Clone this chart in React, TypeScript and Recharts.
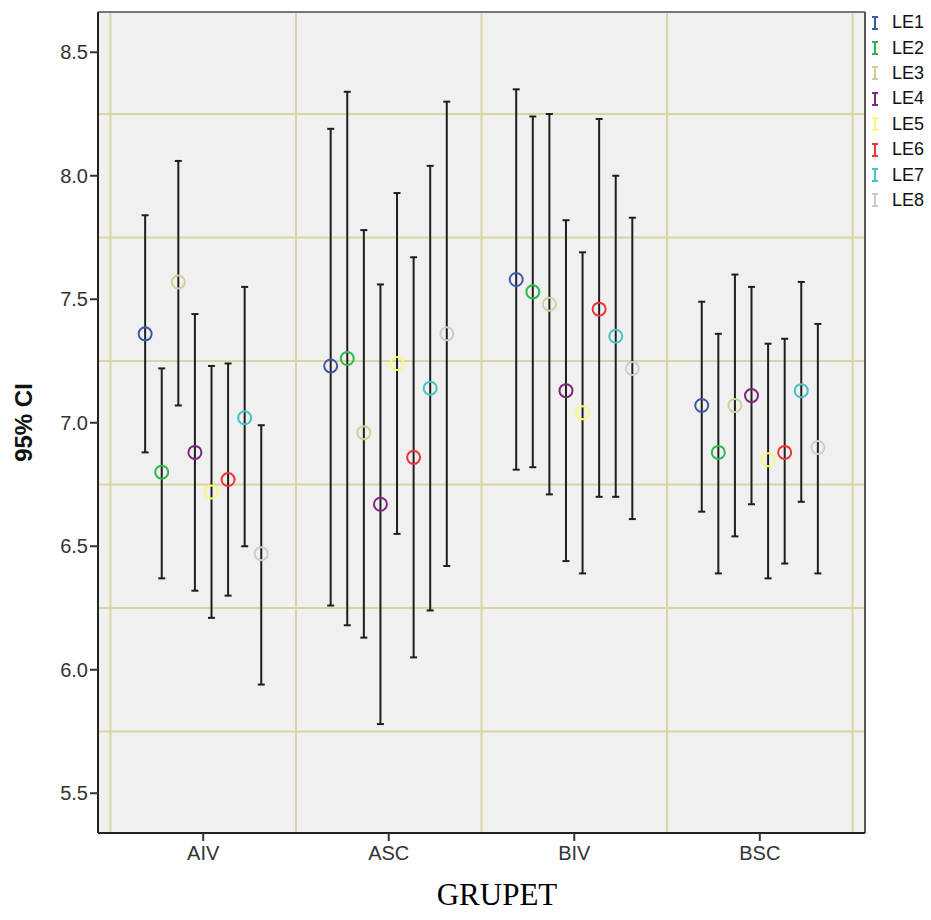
import { ComposedChart, Scatter, ErrorBar, XAxis, YAxis, CartesianGrid, ReferenceLine } from "recharts";

const groups = ["AIV", "ASC", "BIV", "BSC"];
const seriesNames = ["LE1", "LE2", "LE3", "LE4", "LE5", "LE6", "LE7", "LE8"];
const seriesColors = ["#3E58AC", "#2EB848", "#D3CE97", "#7C287D", "#FBF873", "#EF3338", "#48C2C5", "#CCCCCC"];

// mean, lower and upper 95% bounds per series, one entry per group (AIV, ASC, BIV, BSC)
const means = [
  [7.36, 7.23, 7.58, 7.07],
  [6.8, 7.26, 7.53, 6.88],
  [7.57, 6.96, 7.48, 7.07],
  [6.88, 6.67, 7.13, 7.11],
  [6.72, 7.24, 7.04, 6.85],
  [6.77, 6.86, 7.46, 6.88],
  [7.02, 7.14, 7.35, 7.13],
  [6.47, 7.36, 7.22, 6.9],
];
const lowers = [
  [6.88, 6.26, 6.81, 6.64],
  [6.37, 6.18, 6.82, 6.39],
  [7.07, 6.13, 6.71, 6.54],
  [6.32, 5.78, 6.44, 6.67],
  [6.21, 6.55, 6.39, 6.37],
  [6.3, 6.05, 6.7, 6.43],
  [6.5, 6.24, 6.7, 6.68],
  [5.94, 6.42, 6.61, 6.39],
];
const uppers = [
  [7.84, 8.19, 8.35, 7.49],
  [7.22, 8.34, 8.24, 7.36],
  [8.06, 7.78, 8.25, 7.6],
  [7.44, 7.56, 7.82, 7.55],
  [7.23, 7.93, 7.69, 7.32],
  [7.24, 7.67, 8.23, 7.34],
  [7.55, 8.04, 8.0, 7.57],
  [6.99, 8.3, 7.83, 7.4],
];
const yTicks = [5.5, 6.0, 6.5, 7.0, 7.5, 8.0, 8.5];
const gridY = [5.75, 6.25, 6.75, 7.25, 7.75, 8.25];
const gridX = [-0.5, 0.5, 1.5, 2.5, 3.5];

const X_MIN = -0.567;
const X_MAX = 3.567;
const Y_MIN = 5.339;
const Y_MAX = 8.663;
const STEP = 0.0894; // horizontal spacing between series inside a group

const seriesData = seriesNames.map((_, s) =>
  groups.map((_, g) => ({
    x: g + (s - 3.5) * STEP,
    y: means[s][g],
    ci: [means[s][g] - lowers[s][g], uppers[s][g] - means[s][g]],
  }))
);

const HollowCircle = (props: any) => {
  const { cx, cy, fill } = props;
  return <circle cx={cx} cy={cy} r={6.5} fill="none" stroke={fill} strokeWidth={2} />;
};

const LegendBox = () => (
  <div
    style={{
      position: "absolute",
      left: 869,
      top: 10,
      fontFamily: "Liberation Sans, Arial, sans-serif",
      fontSize: 18,
      color: "#111",
    }}
  >
    {seriesNames.map((n, i) => (
      <div key={n} style={{ display: "flex", alignItems: "center", height: 25.4 }}>
        <svg width={12} height={16} style={{ marginRight: 11 }}>
          <line x1={6} y1={2} x2={6} y2={14} stroke={seriesColors[i]} strokeWidth={2} />
          <line x1={3} y1={2} x2={9} y2={2} stroke={seriesColors[i]} strokeWidth={2} />
          <line x1={3} y1={14} x2={9} y2={14} stroke={seriesColors[i]} strokeWidth={2} />
        </svg>
        <span>{n}</span>
      </div>
    ))}
  </div>
);

const GroupLabel = (props: any) => {
  const { viewBox } = props;
  return (
    <text
      x={497}
      y={viewBox.y + 72}
      textAnchor="middle"
      fontFamily="Liberation Serif, Times New Roman, serif"
      fontSize={31}
      fill="#000"
    >
      GRUPET
    </text>
  );
};

export default function App() {
  return (
    <div style={{ position: "absolute", left: 0, top: 0, width: 931, height: 920, background: "#fff" }}>
      <ComposedChart
        width={931}
        height={920}
        margin={{ top: 12, right: 66, bottom: 0, left: 0 }}
        style={{ fontFamily: "Liberation Sans, Arial, sans-serif" }}
      >
        <CartesianGrid
          fill="#F0F0F0"
          stroke="#D9D4A2"
          strokeWidth={2}
          horizontalValues={gridY}
          verticalValues={gridX}
        />
        <XAxis
          type="number"
          dataKey="x"
          domain={[X_MIN, X_MAX]}
          ticks={[0, 1, 2, 3]}
          tickFormatter={(v: number) => groups[Math.round(v)]}
          allowDataOverflow
          height={87}
          tickSize={8}
          tickMargin={5}
          tick={{ fontSize: 20, fill: "#333" }}
          axisLine={{ stroke: "#222", strokeWidth: 2 }}
          tickLine={{ stroke: "#333", strokeWidth: 2 }}
          label={<GroupLabel />}
        />
        <YAxis
          type="number"
          dataKey="y"
          domain={[Y_MIN, Y_MAX]}
          ticks={yTicks}
          tickFormatter={(v: number) => v.toFixed(1)}
          allowDataOverflow
          width={98}
          tickSize={8}
          tickMargin={2}
          tick={{ fontSize: 20, fill: "#333" }}
          axisLine={{ stroke: "#222", strokeWidth: 2 }}
          tickLine={{ stroke: "#333", strokeWidth: 2 }}
          label={{
            value: "95% CI",
            angle: -90,
            position: "insideLeft",
            dx: 18,
            style: { fontSize: 24, fontWeight: "bold", fill: "#111", textAnchor: "middle" },
          }}
        />
        <ReferenceLine y={Y_MAX} stroke="#777" strokeWidth={2} />
        <ReferenceLine x={X_MAX} stroke="#555" strokeWidth={2} />
        {seriesData.map((d, s) => (
          <Scatter
            key={seriesNames[s]}
            name={seriesNames[s]}
            data={d}
            fill={seriesColors[s]}
            shape={<HollowCircle />}
            isAnimationActive={false}
          >
            <ErrorBar dataKey="ci" direction="y" width={3.5} stroke="#1e1e1e" strokeWidth={2} isAnimationActive={false} />
          </Scatter>
        ))}
      </ComposedChart>
      <LegendBox />
    </div>
  );
}
